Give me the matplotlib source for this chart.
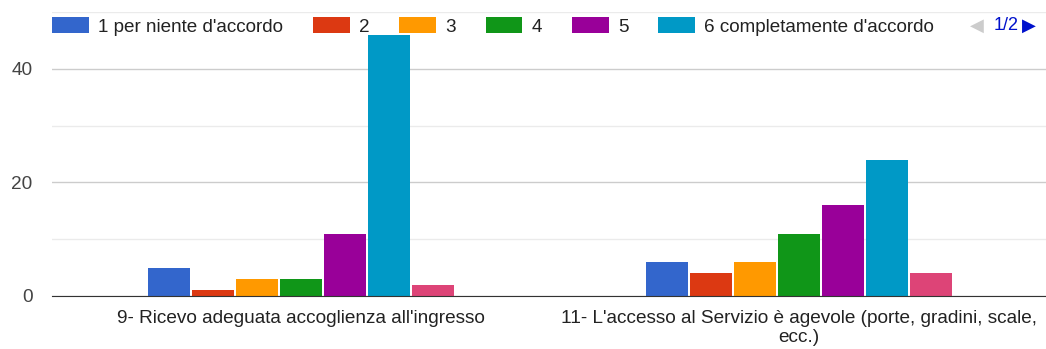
import matplotlib.pyplot as plt
import numpy as np

# data
questions = ["9- Ricevo adeguata accoglienza all'ingresso",
             "11- L'accesso al Servizio è agevole (porte, gradini, scale,\necc.)"]
series_labels = ["1 per niente d'accordo", "2", "3", "4", "5",
                 "6 completamente d'accordo", "non risponde"]
counts_q9 = [5, 1, 3, 3, 11, 46, 2]
counts_q11 = [6, 4, 6, 11, 16, 24, 4]

colors = ["#3366cc", "#dc3912", "#ff9900", "#109618", "#990099", "#0099c6", "#dd4477"]

plt.rcParams['font.family'] = ['Liberation Sans', 'DejaVu Sans']
FS = 13.7

W, H = 1046, 349
fig = plt.figure(figsize=(W / 100, H / 100), dpi=100)
# plot area in pixels: left 52, baseline 296, top 12
ax = fig.add_axes([52 / W, (H - 296) / H, (W - 52) / W, (296 - 12) / H])

values = np.array([counts_q9, counts_q11])  # shape (questions, series)
x = np.arange(len(questions))
slot = 0.0884
bar_w = 0.0843
n = len(series_labels)
bars = []
for i in range(n):
    b = ax.bar(x + (i - (n - 1) / 2) * slot, values[:, i], width=bar_w,
               color=colors[i], label=series_labels[i], zorder=3)
    bars.append(b)

ax.set_xlim(-0.5, -0.5 + (W - 52) / 498)
ax.set_ylim(0, 50)
ax.set_yticks([0, 20, 40])
ax.set_yticks([10, 30, 50], minor=True)
ax.grid(axis='y', which='major', color='#cccccc', lw=1, zorder=0)
ax.grid(axis='y', which='minor', color='#ebebeb', lw=1, zorder=0)
ax.tick_params(axis='y', which='both', length=0, labelsize=FS, labelcolor='#444444', pad=14)
ax.tick_params(axis='x', length=0, labelsize=FS, labelcolor='#222222', pad=10)
ax.set_xticks(x)
ax.set_xticklabels(questions, linespacing=1.2)
for s in ['top', 'right', 'left']:
    ax.spines[s].set_visible(False)
ax.spines['bottom'].set_color('#333333')
ax.spines['bottom'].set_zorder(4)

# legend shows first page only (6 of 7 entries)
fig.legend(handles=bars[:6], labels=series_labels[:6], ncol=6, frameon=False,
           loc='upper left', bbox_to_anchor=(52 / W, 1 - 17 / H),
           fontsize=13.55, handlelength=1.95, handleheight=0.95, handletextpad=0.5,
           columnspacing=1.58, borderpad=0, borderaxespad=0, labelcolor='#222222')

fig.text(970 / W, 1 - 26 / H, "◀", family='DejaVu Sans', fontsize=13,
         color='#cccccc', va='center', ha='left')
fig.text(994 / W, 1 - 26 / H, "1/2", fontsize=13, color='#0011cc', va='center', ha='left')
fig.text(1022 / W, 1 - 26 / H, "▶", family='DejaVu Sans', fontsize=13,
         color='#0011cc', va='center', ha='left')

fig.savefig("out.png", dpi=100)
